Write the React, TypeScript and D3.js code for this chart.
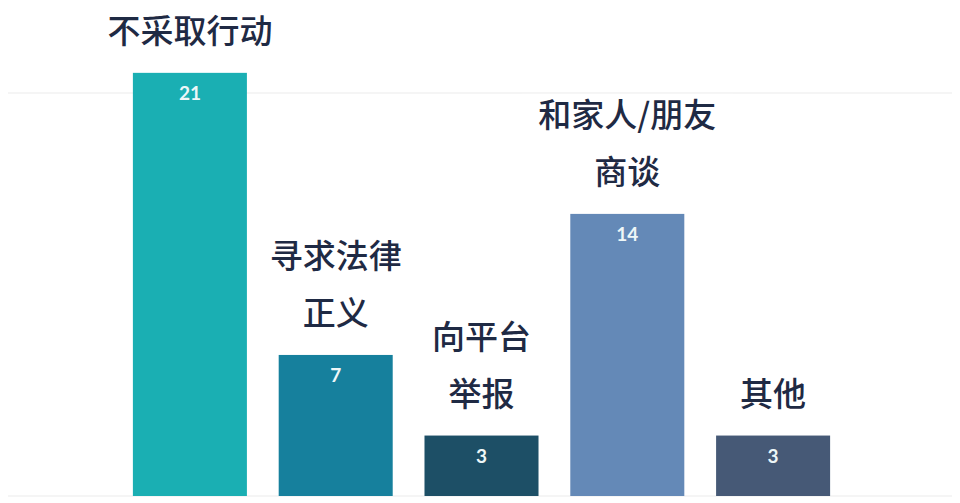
import React from "react";
import * as d3 from "d3";

const categories: string[][] = [
  ["不采取行动"],
  ["寻求法律", "正义"],
  ["向平台", "举报"],
  ["和家人/朋友", "商谈"],
  ["其他"],
];
const values: number[] = [21, 7, 3, 14, 3];
const colors: string[] = ["#1aafb3", "#16809d", "#1d4f66", "#6489b7", "#465976"];
const gridTicks: number[] = [0, 20];

const W = 960;
const H = 503;

export default function App() {
  const x = d3
    .scaleBand<number>()
    .domain(values.map((_, i) => i))
    .range([117, 846])
    .paddingInner(0.218)
    .paddingOuter(0.109);
  const y = d3.scaleLinear().domain([0, 20]).range([496, 93]);

  const labelFont = 33;
  const lineGap = 57;
  const labelGap = 30;

  return (
    <svg
      width={W}
      height={H}
      style={{ position: "absolute", left: 0, top: 0, background: "#fff" }}
    >
      {gridTicks.map((t) => (
        <line
          key={t}
          x1={8}
          x2={952}
          y1={y(t)}
          y2={y(t)}
          stroke="#ececec"
          strokeWidth={1.2}
        />
      ))}
      {values.map((v, i) => {
        const x0 = x(i)!;
        const bw = x.bandwidth();
        const cx = x0 + bw / 2;
        const top = y(v);
        const lines = categories[i];
        return (
          <g key={i}>
            <rect
              x={x0}
              y={top}
              width={bw}
              height={y(0) - top}
              fill={colors[i]}
            />
            <text
              x={cx}
              y={top + 27}
              textAnchor="middle"
              fontFamily="Lato, 'Open Sans', sans-serif"
              fontWeight={700}
              fontSize={19}
              fill="#eef7f8"
            >
              {v}
            </text>
            {lines.map((ln, j) => {
              const baseline =
                top - labelGap - (lines.length - 1 - j) * lineGap;
              const tw = ln.length * labelFont * 0.95;
              return (
                <g key={j}>
                  <rect
                    x={cx - tw / 2 - 12}
                    y={baseline - labelFont}
                    width={tw + 24}
                    height={labelFont + 8}
                    fill="#fff"
                  />
                  <text
                    x={cx}
                    y={baseline}
                    textAnchor="middle"
                    fontFamily="'Noto Sans CJK SC', 'Noto Sans', sans-serif"
                    fontWeight={500}
                    fontSize={labelFont}
                    fill="#1f2a44"
                  >
                    {ln}
                  </text>
                </g>
              );
            })}
          </g>
        );
      })}
    </svg>
  );
}
